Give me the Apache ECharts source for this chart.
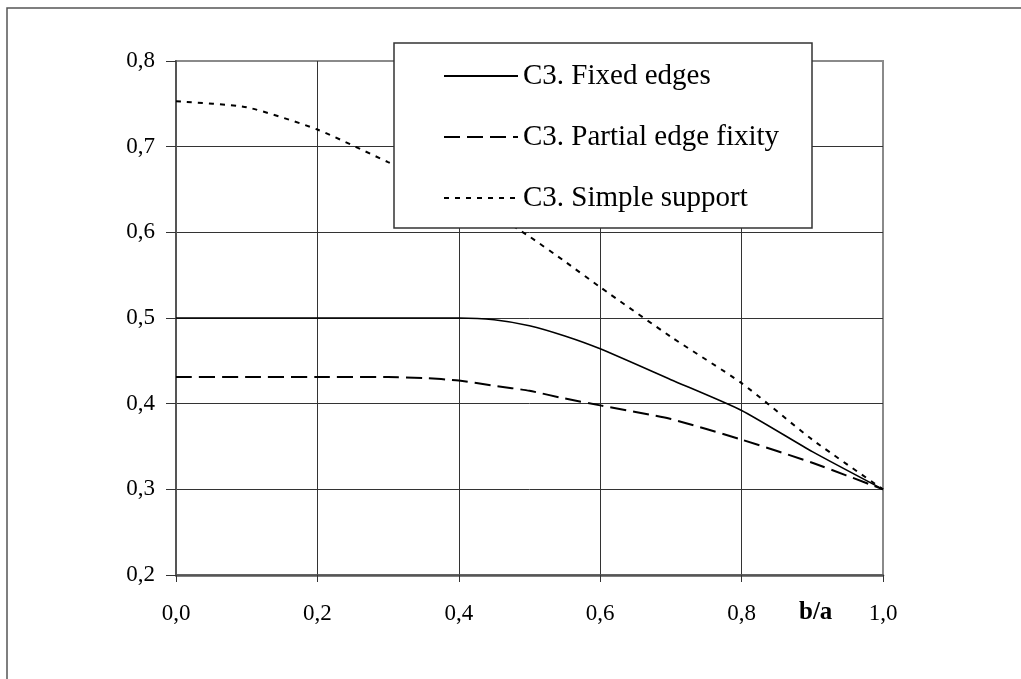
<!DOCTYPE html>
<html>
<head>
<meta charset="utf-8">
<script src="https://cdn.jsdelivr.net/npm/echarts@6/dist/echarts.min.js"></script>
<style>
  html, body { margin: 0; padding: 0; background: #fff; }
  #chart { width: 1021px; height: 679px; }
</style>
</head>
<body>
<div id="chart"></div>
<script>
// b/a ratio sample points
const ratioBA = [0, 0.1, 0.2, 0.3, 0.35, 0.4, 0.45, 0.5, 0.55, 0.6, 0.7, 0.8, 0.9, 1.0];

// C3 coefficient for the three edge conditions
const fixedEdges     = [0.500, 0.500, 0.500, 0.500, 0.500, 0.500, 0.498, 0.491, 0.479, 0.464, 0.428, 0.392, 0.344, 0.300];
const partialFixity  = [0.431, 0.431, 0.431, 0.431, 0.430, 0.427, 0.421, 0.415, 0.406, 0.398, 0.382, 0.358, 0.331, 0.300];
const simpleSupport  = [0.753, 0.746, 0.720, 0.682, 0.664, 0.645, 0.621, 0.595, 0.566, 0.536, 0.478, 0.424, 0.358, 0.300];

const seriesNames = ['C3. Fixed edges', 'C3. Partial edge fixity', 'C3. Simple support'];
const xAxisTitle = 'b/a';

const pairs = ys => ratioBA.map((x, i) => [x, ys[i]]);
const commaFmt = v => v.toFixed(1).replace('.', ',');
const FONT = '"Liberation Serif", "Times New Roman", serif';

const chart = echarts.init(document.getElementById('chart'), null, { renderer: 'canvas' });

chart.setOption({
  animation: false,
  backgroundColor: '#fff',
  grid: {
    left: 176, top: 61, right: 138, bottom: 104,
    show: true, borderColor: '#8a8a8a', borderWidth: 2, backgroundColor: '#fff'
  },
  xAxis: {
    type: 'value', min: 0, max: 1, interval: 0.2,
    axisLine: { show: true, onZero: false, lineStyle: { color: '#555', width: 2.5 } },
    axisTick: { show: true, length: 7, lineStyle: { color: '#333', width: 1 } },
    axisLabel: { formatter: commaFmt, margin: 27, color: '#000', fontFamily: FONT, fontSize: 23 },
    splitLine: { show: true, lineStyle: { color: ['#333', '#333', '#333', '#333', '#333', '#8a8a8a'], width: 1 } }
  },
  yAxis: {
    type: 'value', min: 0.2, max: 0.8, interval: 0.1,
    axisLine: { show: true, onZero: false, lineStyle: { color: '#555', width: 2 } },
    axisTick: { show: true, length: 10, lineStyle: { color: '#333', width: 1 } },
    axisLabel: { formatter: commaFmt, margin: 21, color: '#000', fontFamily: FONT, fontSize: 23 },
    splitLine: { show: true, lineStyle: { color: ['#333', '#333', '#333', '#333', '#333', '#333', '#8a8a8a'], width: 1 } }
  },
  legend: {
    left: 443, top: 60, orient: 'vertical', padding: 0,
    itemWidth: 74, itemHeight: 14, itemGap: 29,
    itemStyle: { opacity: 0 },
    lineStyle: { width: 2 },
    textStyle: { fontFamily: FONT, fontSize: 29, color: '#000', lineHeight: 32 },
    data: seriesNames,
    z: 10
  },
  graphic: [
    // outer frame
    { type: 'rect', z: 0, silent: true,
      shape: { x: 7, y: 8, width: 1100, height: 1000 },
      style: { fill: 'none', stroke: '#555', lineWidth: 1.5 } },
    // legend panel
    { type: 'rect', z: 5, silent: true,
      shape: { x: 394, y: 43, width: 418, height: 185 },
      style: { fill: '#fff', stroke: '#333', lineWidth: 1.5 } },
    // x axis title
    { type: 'text', z: 6, left: 799, top: 600,
      style: { text: xAxisTitle, font: 'bold 25px ' + FONT, fill: '#000' } }
  ],
  series: [
    { name: seriesNames[0], type: 'line', data: pairs(fixedEdges), symbol: 'none', smooth: 0.2,
      lineStyle: { color: '#000', width: 1.6, type: 'solid' }, z: 3 },
    { name: seriesNames[1], type: 'line', data: pairs(partialFixity), symbol: 'none', smooth: 0.2,
      lineStyle: { color: '#000', width: 2, type: [16, 7] }, z: 3 },
    { name: seriesNames[2], type: 'line', data: pairs(simpleSupport), symbol: 'none', smooth: 0.2,
      lineStyle: { color: '#000', width: 2, type: [5, 6] }, z: 3 }
  ]
});
</script>
</body>
</html>
